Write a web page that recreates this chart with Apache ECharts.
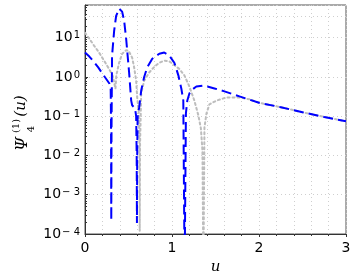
<!DOCTYPE html>
<html>
<head>
<meta charset="utf-8">
<script src="https://cdn.jsdelivr.net/npm/echarts@6/dist/echarts.min.js"></script>
<style>html,body{margin:0;padding:0;background:#fff}#c{width:354px;height:273px}</style>
</head>
<body>
<div id="c"></div>
<script>
// u positions and values
var blueU = [0, 0.05, 0.1, 0.15, 0.2, 0.25, 0.28, 0.295, 0.299, 0.302, 0.305, 0.311, 0.335, 0.358, 0.392, 0.427, 0.45, 0.473, 0.49, 0.507, 0.531, 0.542, 0.56, 0.575, 0.588, 0.594, 0.597, 0.6, 0.605, 0.623, 0.646, 0.68, 0.715, 0.773, 0.854, 0.911, 0.969, 1.027, 1.073, 1.107, 1.13, 1.145, 1.16, 1.176, 1.2, 1.234, 1.28, 1.35, 1.407, 1.488, 1.603, 1.776, 2.0, 2.25, 2.5, 2.75, 3.0];
var blueV = [4.17, 3.3, 2.46, 1.78, 1.22, 0.85, 0.68, 0.54, 0.08, 2.2e-4, 0.05, 3.5, 15, 36, 55, 46, 27, 9.4, 3.5, 1.3, 0.25, 0.19, 0.17, 0.16, 0.1, 0.01, 1.9e-4, 0.01, 0.1, 0.17, 0.45, 1.0, 1.74, 2.9, 3.9, 4.2, 3.5, 2.3, 1.1, 0.51, 0.25, 1e-5, 0.12, 0.25, 0.38, 0.48, 0.57, 0.6, 0.57, 0.51, 0.43, 0.32, 0.22, 0.17, 0.126, 0.096, 0.074];

var greyU = [0, 0.058, 0.104, 0.161, 0.219, 0.277, 0.32, 0.35, 0.36, 0.392, 0.427, 0.473, 0.5, 0.542, 0.565, 0.588, 0.6, 0.617, 0.626, 0.629, 0.633, 0.646, 0.68, 0.738, 0.796, 0.854, 0.911, 0.969, 1.027, 1.084, 1.142, 1.2, 1.257, 1.303, 1.332, 1.35, 1.361, 1.373, 1.396, 1.43, 1.511, 1.626, 1.776, 1.89, 2.0, 2.25, 2.5, 2.75, 3.0];
var greyV = [13.4, 8.9, 6.3, 4.2, 2.6, 1.6, 1.05, 0.5, 1.1, 2.3, 3.9, 4.8, 4.7, 3.1, 1.74, 0.81, 0.3, 0.13, 0.02, 1.2e-4, 0.02, 0.38, 0.8, 1.3, 1.8, 2.3, 2.6, 2.5, 2.0, 1.6, 1.1, 0.57, 0.25, 0.105, 0.049, 0.0135, 1e-5, 0.052, 0.117, 0.2, 0.25, 0.3, 0.3, 0.27, 0.22, 0.17, 0.126, 0.096, 0.074];

var xTicks = [0, 1, 2, 3];
var extraGridY = [36, 2.7e-4];

function zip(a, b) { return a.map(function (v, i) { return [v, b[i]]; }); }

var chart = echarts.init(document.getElementById('c'), null, {renderer: 'canvas'});
var dotted = {color: '#cfcfcf', type: [1, 3], width: 1};
chart.setOption({
  animation: false,
  backgroundColor: '#fff',
  grid: {left: 85, right: 8, top: 5, bottom: 39, show: true, borderColor: '#555', borderWidth: 1, backgroundColor: 'transparent', containLabel: false, outerBoundsMode: 'none'},
  xAxis: {
    type: 'value', min: xTicks[0], max: xTicks[xTicks.length - 1], interval: 1,
    name: 'u', nameLocation: 'middle', nameGap: 18,
    nameTextStyle: {fontFamily: 'DejaVu Serif', fontStyle: 'italic', fontSize: 15, color: '#000'},
    axisLine: {lineStyle: {color: '#333'}},
    axisTick: {show: true, inside: false, length: 3, lineStyle: {color: '#333'}},
    minorTick: {show: true, splitNumber: 5, length: 2, lineStyle: {color: '#333'}},
    axisLabel: {fontFamily: 'DejaVu Sans', fontSize: 14, color: '#000', margin: 7},
    splitLine: {show: true, lineStyle: dotted},
    minorSplitLine: {show: true, lineStyle: dotted}
  },
  yAxis: {
    type: 'log', logBase: 10, min: 1e-4, max: 68,
    axisLine: {show: true, lineStyle: {color: '#333'}},
    axisTick: {show: true, inside: true, length: 3, lineStyle: {color: '#333'}},
    minorTick: {show: true, splitNumber: 9, length: 2, lineStyle: {color: '#333'}},
    splitLine: {show: true, lineStyle: dotted},
    axisLabel: {
      margin: 5, showMaxLabel: false,
      formatter: function (v) {
        var l = Math.log10(v);
        var e = Math.round(l);
        if (Math.abs(l - e) > 0.01) return '';
        var s = e < 0 ? '\u2212 ' + (-e) : String(e);
        return '{b|10}{s|' + s + '}';
      },
      rich: {
        b: {fontFamily: 'DejaVu Sans', fontSize: 14, lineHeight: 14, verticalAlign: 'bottom', color: '#000'},
        s: {fontFamily: 'DejaVu Sans', fontSize: 10, lineHeight: 10, verticalAlign: 'top', padding: [0, 0, 8, 1], color: '#000'}
      }
    }
  },
  graphic: [
    {type: 'text', x: 23, y: 144, rotation: Math.PI / 2, style: {text: 'Ψ', font: 'italic 16px "DejaVu Serif"', fill: '#000', align: 'center', verticalAlign: 'middle'}},
    {type: 'text', x: 16, y: 126, rotation: Math.PI / 2, style: {text: '(1)', font: '10px "DejaVu Serif"', fill: '#000', align: 'center', verticalAlign: 'middle'}},
    {type: 'text', x: 31, y: 129, rotation: Math.PI / 2, style: {text: '4', font: '10px "DejaVu Serif"', fill: '#000', align: 'center', verticalAlign: 'middle'}},
    {type: 'text', x: 21, y: 106, rotation: Math.PI / 2, style: {text: '(u)', font: 'italic 15px "DejaVu Serif"', fill: '#000', align: 'center', verticalAlign: 'middle'}}
  ],
  series: [
    {
      type: 'line', data: zip(greyU, greyV), showSymbol: false, clip: true, z: 2,
      lineStyle: {color: '#bdbdbd', width: 2, type: [2, 3], cap: 'round'},
      markLine: {silent: true, symbol: 'none', label: {show: false}, lineStyle: dotted,
        data: extraGridY.map(function (v) { return {yAxis: v}; })}
    },
    {
      type: 'line', data: zip(blueU, blueV), showSymbol: false, clip: true, z: 3,
      lineStyle: {color: '#0000ff', width: 2, type: [10, 5]}
    }
  ]
});
</script>
</body>
</html>
